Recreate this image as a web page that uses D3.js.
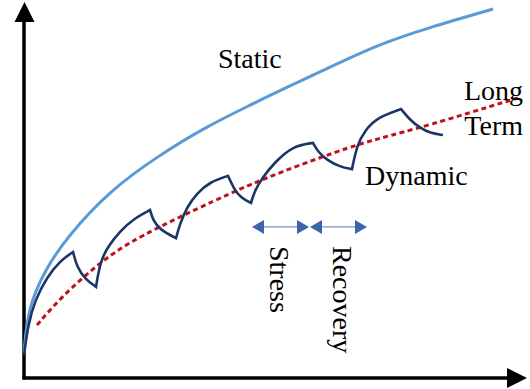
<!DOCTYPE html>
<html>
<head>
<meta charset="utf-8">
<script src="https://cdn.jsdelivr.net/npm/d3@7"></script>
<style>
  html, body { margin: 0; padding: 0; background: #fff; }
  svg { display: block; }
  text { font-family: "Liberation Serif", "Times New Roman", serif; fill: #000; }
</style>
</head>
<body>
<svg id="chart" width="530" height="389"></svg>
<script>
// ---- data (arbitrary units: time 0..100, response 0..100) ----
const staticX = [0, 0.8, 4.2, 8.6, 17.2, 27.2, 35.2, 45.2, 53.2, 61.2, 71.2, 80.6, 93.8];
const staticY = [6.9, 18.7, 28.8, 37.6, 50.1, 59.5, 66.1, 72.8, 77.9, 82.9, 89.1, 93.3, 98.4];

const longX = [2.6, 7.2, 15.2, 22.6, 39.2, 47.2, 63.2, 71.2, 79.8, 98.8];
const longY = [14.1, 21.3, 30.9, 37.6, 48.0, 52.8, 60.8, 64.0, 66.9, 74.7];

const dynamicX = [0, 0.8, 2.2, 4.6, 7.2, 9.8, 10.6, 12.2, 14.4, 15.2, 16.6, 19.2, 22.2, 25.2,
  25.8, 27.2, 30.4, 31.2, 32.6, 34.6, 37.2, 40.8, 42.0, 43.4, 45.4, 46.2, 47.6, 50.2, 53.8, 57.8,
  58.8, 60.6, 63.2, 65.6, 66.6, 68.2, 70.8, 75.4, 77.2, 79.2, 81.2, 83.8];
const dynamicY = [6.1, 14.1, 20.8, 26.9, 31.2, 33.6, 29.6, 26.4, 24.3, 30.7, 34.7, 39.2, 42.7, 44.8,
  42.1, 39.5, 37.3, 41.1, 45.6, 49.3, 52.3, 53.9, 50.4, 48.0, 46.7, 50.1, 53.3, 57.6, 61.9, 62.7,
  60.3, 58.1, 56.3, 55.7, 62.1, 66.1, 69.6, 71.7, 68.8, 66.7, 65.3, 64.8];
// indices where stress / recovery switch (peaks and troughs)
const dynamicCorners = [0, 5, 8, 13, 16, 21, 24, 29, 33, 37, 41];

const seriesLabels = ["Static", "Dynamic", "Long", "Term"];
const phaseLabels = ["Stress", "Recovery"];
// phase arrow extents along time axis, and its level
const phaseStart = [45.6, 57.2];
const phaseEnd = [57.0, 68.6];
const phaseLevel = 40.3;

// ---- layout ----
const svg = d3.select("#chart");
const x = d3.scaleLinear().domain([0, 100]).range([24, 524]);
const y = d3.scaleLinear().domain([0, 100]).range([378, 3]);

const colStatic = "#5b9bd5";
const colDyn = "#1b3566";
const colLong = "#c0101c";
const colArrow = "#3d63ad";

// ---- axes (no ticks, arrows) ----
const ax = svg.append("g");
ax.append("line")
  .attr("x1", x(0)).attr("y1", y(0) + 1.5)
  .attr("x2", x(0)).attr("y2", y(100) + 18)
  .attr("stroke", "#000").attr("stroke-width", 3.5);
ax.append("path")
  .attr("d", `M${x(0) + 0.5},${y(100) - 1} L${x(0) - 9.5},${y(100) + 19} L${x(0) + 10.5},${y(100) + 19} Z`)
  .attr("fill", "#000");
ax.append("line")
  .attr("x1", x(0) - 1.5).attr("y1", y(0))
  .attr("x2", x(100) - 16).attr("y2", y(0))
  .attr("stroke", "#000").attr("stroke-width", 3.5);
ax.append("path")
  .attr("d", `M${x(100) + 3},${y(0)} L${x(100) - 17},${y(0) - 10} L${x(100) - 17},${y(0) + 10} Z`)
  .attr("fill", "#000");

// ---- curves ----
const smooth = d3.line().x(d => x(d[0])).y(d => y(d[1])).curve(d3.curveBasis);

const staticPts = staticX.map((v, i) => [v, staticY[i]]);
svg.append("path").datum(staticPts)
  .attr("d", smooth).attr("fill", "none")
  .attr("stroke", colStatic).attr("stroke-width", 3);

const longPts = longX.map((v, i) => [v, longY[i]]);
svg.append("path").datum(longPts)
  .attr("d", smooth).attr("fill", "none")
  .attr("stroke", colLong).attr("stroke-width", 3)
  .attr("stroke-dasharray", "5,3.5");

const dynPts = dynamicX.map((v, i) => [v, dynamicY[i]]);
let dPath = "";
for (let k = 0; k < dynamicCorners.length - 1; k++) {
  const seg = dynPts.slice(dynamicCorners[k], dynamicCorners[k + 1] + 1);
  let s = smooth(seg);
  if (k > 0) s = "L" + s.slice(1);
  dPath += s;
}
svg.append("path")
  .attr("d", dPath).attr("fill", "none")
  .attr("stroke", colDyn).attr("stroke-width", 2.6)
  .attr("stroke-linejoin", "miter");

// ---- phase arrows ----
const ay = y(phaseLevel);
phaseStart.forEach((s, i) => {
  const x0 = x(s), x1 = x(phaseEnd[i]);
  svg.append("line")
    .attr("x1", x0 + 8).attr("x2", x1 - 8)
    .attr("y1", ay).attr("y2", ay)
    .attr("stroke", "#7d93bf").attr("stroke-width", 1.2);
  svg.append("path")
    .attr("d", `M${x0},${ay} L${x0 + 12},${ay - 7} L${x0 + 12},${ay + 7} Z`)
    .attr("fill", colArrow);
  svg.append("path")
    .attr("d", `M${x1},${ay} L${x1 - 12},${ay - 7} L${x1 - 12},${ay + 7} Z`)
    .attr("fill", colArrow);
});

// ---- labels ----
const fs = 28;
svg.append("text").attr("x", x(38.8)).attr("y", y(82.7))
  .attr("font-size", fs).text(seriesLabels[0]);
svg.append("text").attr("x", x(68.2)).attr("y", y(51.5))
  .attr("font-size", fs).text(seriesLabels[1]);
svg.append("text").attr("x", x(99.8)).attr("y", y(74.1)).attr("text-anchor", "end")
  .attr("font-size", fs).text(seriesLabels[2]);
svg.append("text").attr("x", x(99.8)).attr("y", y(64.8)).attr("text-anchor", "end")
  .attr("font-size", fs).text(seriesLabels[3]);

// vertical phase labels (rotated clockwise)
const vx = [49.2, 61.8];
const vy = 35.2;
phaseLabels.forEach((t, i) => {
  const px = x(vx[i]), py = y(vy);
  svg.append("text")
    .attr("transform", `translate(${px},${py}) rotate(90)`)
    .attr("font-size", fs).text(t);
});
</script>
</body>
</html>
